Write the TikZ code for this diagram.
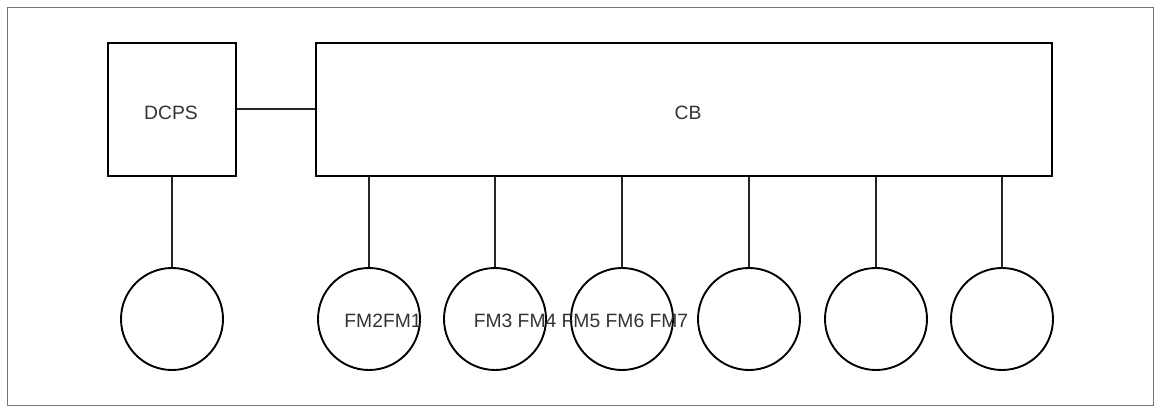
\documentclass[tikz,border=0pt]{standalone}
\usepackage{fontspec}
\setmainfont{Liberation Sans}
\begin{document}
\begin{tikzpicture}[x=1pt,y=-1pt,
  blk/.style={draw=black,line width=1.9pt,fill=white},
  fm/.style={draw=black,line width=1.9pt,circle,minimum size=102pt,inner sep=0pt,fill=white},
  wire/.style={draw=black!85,line width=1.2pt},
  lbl/.style={text=black!80,font=\fontsize{19.3}{22}\selectfont,inner sep=0pt}]
\useasboundingbox (0,0) rectangle (1154,406);
\draw[black!55,line width=1pt] (7.5,8) rectangle (1153,405);
% boxes
\node[blk,minimum width=128pt,minimum height=133pt,inner sep=0pt] (dcps) at (172,109.5) {};
\node[blk,minimum width=736pt,minimum height=133pt,inner sep=0pt] (cb) at (684,109.5) {};
\node[lbl] (tdcps) at (171,113) {DCPS};
\node[lbl] (tcb) at (688,113) {CB};
% circles
\node[fm] (c0) at (172,319) {};
\node[fm] (c1) at (369,319) {};
\node[fm] (c2) at (495,319) {};
\node[fm] (c3) at (622,319) {};
\node[fm] (c4) at (749,319) {};
\node[fm] (c5) at (876,319) {};
\node[fm] (c6) at (1002,319) {};
% connectors
\coordinate (k) at (cb.west |- 0,109);
\draw[wire] (dcps.east |- k) -- (k);
\draw[wire] (dcps.south) -- (c0.north);
\foreach \i in {1,...,6}{
  \draw[wire] (cb.south -| c\i.north) -- (c\i.north);
}
% labels
\node[lbl] (l1) at (383,321) {FM2FM1};
\node[lbl] (l2) at (581,321) {FM3 FM4 FM5 FM6 FM7};
\end{tikzpicture}
\end{document}
